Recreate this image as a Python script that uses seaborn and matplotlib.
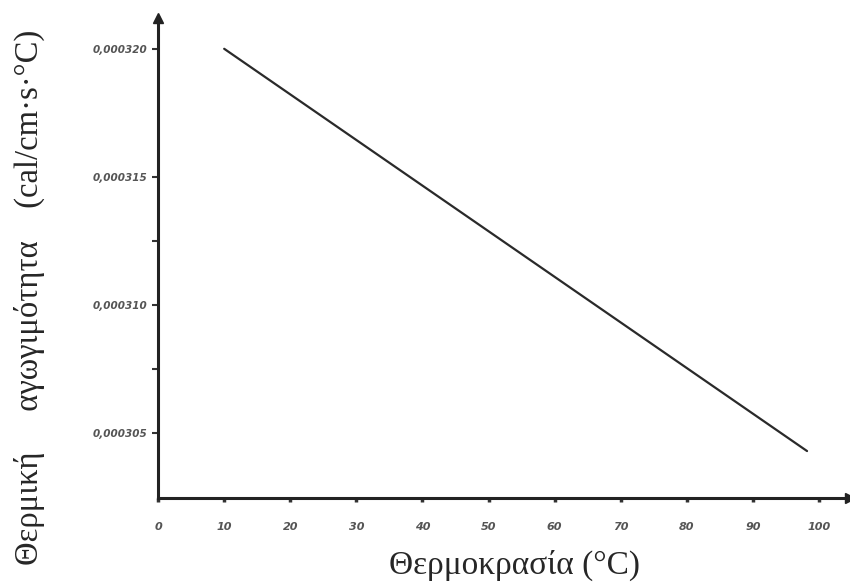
import seaborn as sns
import pandas as pd
import numpy as np
import matplotlib.pyplot as plt

# values
temps = [10, 98.2]
cond = [0.000320, 0.0003043]
xticks = [0, 10, 20, 30, 40, 50, 60, 70, 80, 90, 100]
yticks = [0.000305, 0.000310, 0.000315, 0.000320]
ytick_labels = ['0,000305', '0,000310', '0,000315', '0,000320']
yminor = [0.0003075, 0.0003125]

df = pd.DataFrame({'temp': temps, 'k': cond})

sns.set_style("ticks")
plt.rcParams['font.family'] = ['Liberation Serif', 'DejaVu Serif']

fig = plt.figure(figsize=(8.5, 5.82), dpi=100)
ax = fig.add_axes([0.186, 0.144, 0.814, 0.825])

sns.lineplot(x='temp', y='k', data=df, ax=ax, color='#2a2a2a', linewidth=1.6)

ax.set_xlim(0, 104.7)
ax.set_ylim(0.00030246, 0.0003212)

ax.set_xticks(xticks)
ax.set_xticklabels([str(t) for t in xticks], fontsize=8, style='italic',
                   fontweight='bold', color='#555555', family='DejaVu Sans')
ax.set_yticks(yticks)
ax.set_yticklabels(ytick_labels, fontsize=7.5, style='italic',
                   fontweight='bold', color='#555555', family='DejaVu Sans')
ax.set_yticks(yminor, minor=True)
ax.tick_params(axis='x', length=3, width=2.5, pad=14, color='#333333')
ax.tick_params(axis='y', which='both', length=4, width=1.5, pad=4, color='#333333')

sns.despine(ax=ax)
for s in ['left', 'bottom']:
    ax.spines[s].set_linewidth(2.2)
    ax.spines[s].set_color('#222222')

# arrow heads on the axes
ax.plot(1, 0, '>', color='#222222', markersize=7, transform=ax.transAxes, clip_on=False)
ax.plot(0, 1, '^', color='#222222', markersize=7, transform=ax.transAxes, clip_on=False)

ax.set_xlabel('Θερμοκρασία (°C)', fontsize=24)
ax.set_ylabel('Θερμική     αγωγιμότητα    (cal/cm·s·°C)', fontsize=23.5)
ax.xaxis.set_label_coords(0.515, -0.108)
ax.yaxis.set_label_coords(-0.164, 0.418)

plt.savefig('out.png', dpi=100)
